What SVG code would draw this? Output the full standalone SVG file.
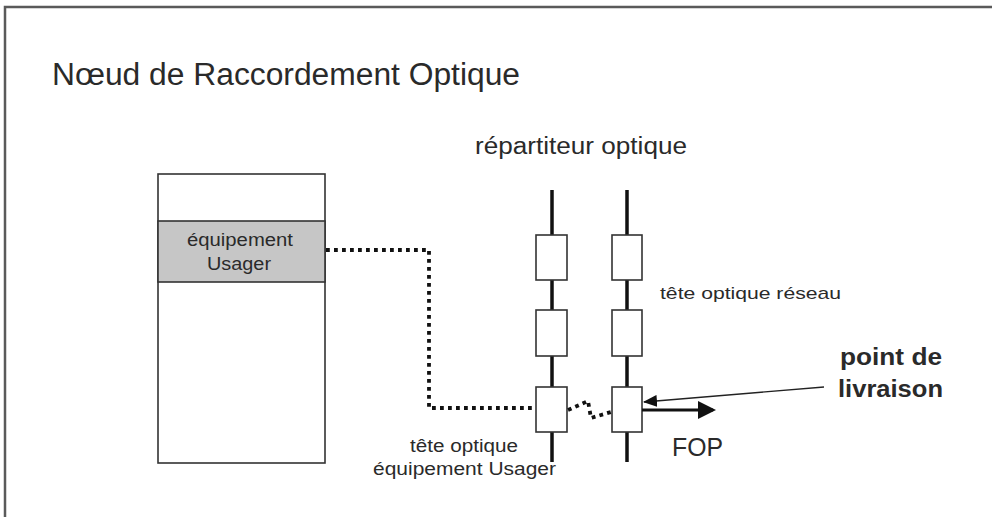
<svg xmlns="http://www.w3.org/2000/svg" width="992" height="517" viewBox="0 0 992 517">
<style>
text{font-family:"Liberation Sans",Arial,sans-serif;fill:#2a2a2a}
.box{fill:#fff;stroke:#333;stroke-width:1.6}
.rail{stroke:#111;stroke-width:3.5;fill:none}
.dot{stroke:#111;stroke-width:3.8;fill:none;stroke-dasharray:3.8 4.2}
</style>
<defs>
<marker id="headThick" markerWidth="6" markerHeight="6" refX="5" refY="3" orient="auto" markerUnits="strokeWidth"><path d="M0,0 L6,3 L0,6 Z" fill="#111"/></marker>
<marker id="headThin" markerWidth="14" markerHeight="12" refX="13" refY="6" orient="auto" markerUnits="userSpaceOnUse"><path d="M0,0 L14,6 L0,12 Z" fill="#111"/></marker>
</defs>
<rect width="992" height="517" fill="#fff"/>
<path d="M5,517 L5,7 L992,7" fill="none" stroke="#5a5a5a" stroke-width="2.5"/>
<text x="52" y="85" font-size="31" textLength="468" lengthAdjust="spacingAndGlyphs">Nœud de Raccordement Optique</text>

<g id="baie">
<rect class="box" x="158" y="174" width="167" height="289"/>
<rect x="158" y="221" width="167" height="61" fill="#c6c6c6" stroke="#333" stroke-width="1.6"/>
<text x="240" y="246" font-size="17.5" text-anchor="middle" fill="#3a3a3a" textLength="106" lengthAdjust="spacingAndGlyphs">équipement</text>
<text x="239" y="270" font-size="17.5" text-anchor="middle" fill="#3a3a3a" textLength="64" lengthAdjust="spacingAndGlyphs">Usager</text>
</g>

<g id="repartiteur">
<text x="475" y="154" font-size="23.5" textLength="212" lengthAdjust="spacingAndGlyphs">répartiteur optique</text>
<line class="rail" x1="552" y1="190" x2="552" y2="462"/>
<line class="rail" x1="627" y1="190" x2="627" y2="462"/>
<rect class="box" x="536" y="235" width="31" height="45"/>
<rect class="box" x="536" y="310" width="31" height="46"/>
<rect class="box" x="536" y="387" width="31" height="45"/>
<rect class="box" x="612" y="235" width="30" height="45"/>
<rect class="box" x="612" y="310" width="30" height="46"/>
<rect class="box" x="612" y="387" width="30" height="45"/>
</g>

<g id="labels">
<text x="660" y="299" font-size="17" textLength="181" lengthAdjust="spacingAndGlyphs">tête optique  réseau</text>
<text x="410" y="452" font-size="17.5" textLength="108" lengthAdjust="spacingAndGlyphs">tête optique</text>
<text x="373" y="475" font-size="17.5" textLength="183" lengthAdjust="spacingAndGlyphs">équipement  Usager</text>
<text x="840" y="365" font-size="23.5" font-weight="bold" fill="#1a1a1a" textLength="102" lengthAdjust="spacingAndGlyphs">point de</text>
<text x="838" y="397" font-size="23.5" font-weight="bold" fill="#1a1a1a" textLength="105" lengthAdjust="spacingAndGlyphs">livraison</text>
<text x="672" y="456" font-size="25" textLength="51" lengthAdjust="spacingAndGlyphs">FOP</text>
</g>

<g id="connectors">
<path class="dot" d="M326,250 L429,250 L429,408 L536,408"/>
<path class="dot" d="M568,410 L588,401 L591,418 L611,412"/>
<line x1="642" y1="410" x2="713" y2="410" stroke="#111" stroke-width="3" marker-end="url(#headThick)"/>
<line x1="824" y1="387" x2="644" y2="402" stroke="#222" stroke-width="1.3" marker-end="url(#headThin)"/>
</g>
</svg>
